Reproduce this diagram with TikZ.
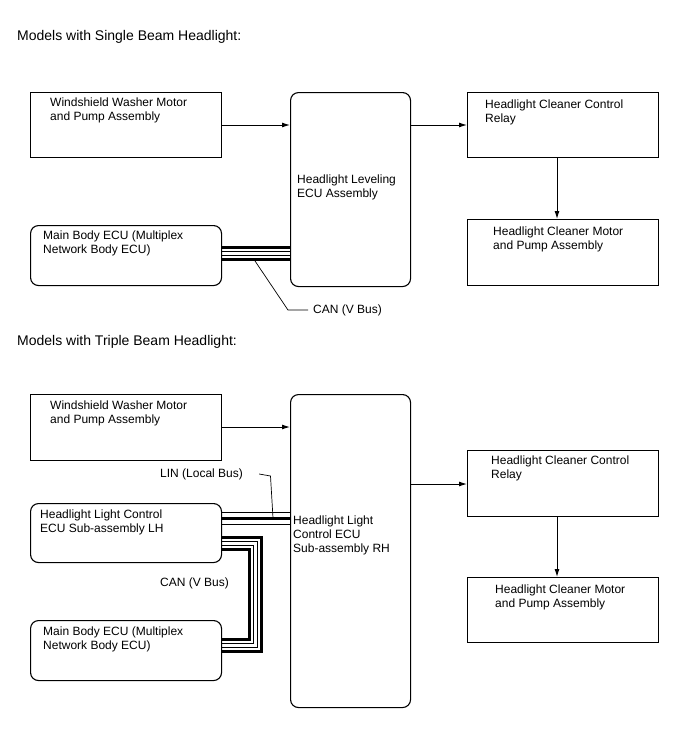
\documentclass[tikz,border=0pt]{standalone}
\usepackage{fontspec}
\setmainfont{Liberation Sans}
\usetikzlibrary{arrows.meta}
\begin{document}
\begin{tikzpicture}[x=1pt,y=-1pt,
  box/.style={draw, line width=1.1pt, anchor=north west, inner sep=0pt, minimum width=191pt},
  rbox/.style={box, rounded corners=8pt},
  txt/.style={anchor=north west, inner sep=0pt, align=left, font=\fontsize{12}{14}\selectfont},
  lbl/.style={anchor=west, inner sep=0pt, font=\fontsize{12}{14}\selectfont},
  title/.style={anchor=north west, inner sep=0pt, font=\fontsize{14}{16}\selectfont},
  arr/.style={line width=1pt, -{Latex[length=8pt,width=5pt]}},
  thickbus/.style={line width=3pt},
  thinbus/.style={line width=0.8pt},
  leader/.style={line width=0.7pt}
]
\useasboundingbox (0,0) rectangle (688,755);

% ---------- Single beam ----------
\node[title] (t1) at (17,30) {Models with Single Beam Headlight:};

\node[box, minimum height=65pt] (ww1) at (30,92) {};
\node[txt] (ww1t) at (50,98) {Windshield Washer Motor\\and Pump Assembly};

\node[rbox, minimum width=120pt, minimum height=194pt] (ecu1) at (290,92) {};
\node[txt] (ecu1t) at (297,175) {Headlight Leveling\\ECU Assembly};

\node[box, minimum height=65pt] (rel1) at (467,92) {};
\node[txt] (rel1t) at (485,100) {Headlight Cleaner Control\\Relay};

\node[box, minimum height=66pt] (mot1) at (467,219) {};
\node[txt] (mot1t) at (493,227) {Headlight Cleaner Motor\\and Pump Assembly};

\node[rbox, minimum height=60pt] (main1) at (30,225) {};
\node[txt] (main1t) at (43,231) {Main Body ECU (Multiplex\\Network Body ECU)};

\draw[arr] (ww1.east |- 0,125) -- (ecu1.west |- 0,125);
\draw[arr] (ecu1.east |- 0,125) -- (rel1.west |- 0,125);
\draw[arr] (rel1.south -| 557,0) -- (mot1.north -| 557,0);

\draw[thickbus] (main1.east |- 0,247.5) -- (ecu1.west |- 0,247.5);
\draw[thinbus]  (main1.east |- 0,251.8) -- (ecu1.west |- 0,251.8);
\draw[thinbus]  (main1.east |- 0,255.6) -- (ecu1.west |- 0,255.6);
\draw[thickbus] (main1.east |- 0,259.5) -- (ecu1.west |- 0,259.5);

\coordinate (can1p) at (254,259.5);
\node[lbl] (can1t) at (313,310) {CAN (V Bus)};
\draw[leader] (can1p) -- (288,310) -- ([xshift=-5pt]can1t.west);

% ---------- Triple beam ----------
\node[title] (t2) at (17,335) {Models with Triple Beam Headlight:};

\node[box, minimum height=66pt] (ww2) at (30,394) {};
\node[txt] (ww2t) at (50,401) {Windshield Washer Motor\\and Pump Assembly};

\node[rbox, minimum width=120pt, minimum height=313pt] (ecu2) at (290,394) {};
\node[txt] (ecu2t) at (293,516) {Headlight Light\\Control ECU\\Sub-assembly RH};

\node[box, minimum height=66pt] (rel2) at (467,450) {};
\node[txt] (rel2t) at (491,456) {Headlight Cleaner Control\\Relay};

\node[box, minimum height=65pt] (mot2) at (467,577) {};
\node[txt] (mot2t) at (495,585) {Headlight Cleaner Motor\\and Pump Assembly};

\node[rbox, minimum height=59pt] (lh) at (30,503) {};
\node[txt] (lht) at (40,510) {Headlight Light Control\\ECU Sub-assembly LH};

\node[rbox, minimum height=60pt] (main2) at (30,620) {};
\node[txt] (main2t) at (43,627) {Main Body ECU (Multiplex\\Network Body ECU)};

\draw[arr] (ww2.east |- 0,427) -- (ecu2.west |- 0,427);
\draw[arr] (ecu2.east |- 0,484) -- (rel2.west |- 0,484);
\draw[arr] (rel2.south -| 557,0) -- (mot2.north -| 557,0);

% LIN
\draw[thinbus]  (lh.east |- 0,512.7) -- (ecu2.west |- 0,512.7);
\draw[thickbus] (lh.east |- 0,518) -- (ecu2.west |- 0,518);
\draw[thinbus]  (lh.east |- 0,524) -- (ecu2.west |- 0,524);
\node[lbl] (lint) at (160,474) {LIN (Local Bus)};
\coordinate (linp) at (273,518);
\draw[leader] (linp) -- (270.5,476) -- ([xshift=16pt]lint.east);

% CAN U
\draw[thickbus] (lh.east |- 0,537.5) -- (261,537.5) -- (261,651.5) -- (main2.east |- 0,651.5);
\draw[thinbus]  (lh.east |- 0,541.5) -- (257,541.5) -- (257,647.5) -- (main2.east |- 0,647.5);
\draw[thinbus]  (lh.east |- 0,545.5) -- (253,545.5) -- (253,643.5) -- (main2.east |- 0,643.5);
\draw[thickbus] (lh.east |- 0,549.5) -- (249,549.5) -- (249,639.5) -- (main2.east |- 0,639.5);
\node[lbl] (can2t) at (160,583) {CAN (V Bus)};
\end{tikzpicture}
\end{document}
